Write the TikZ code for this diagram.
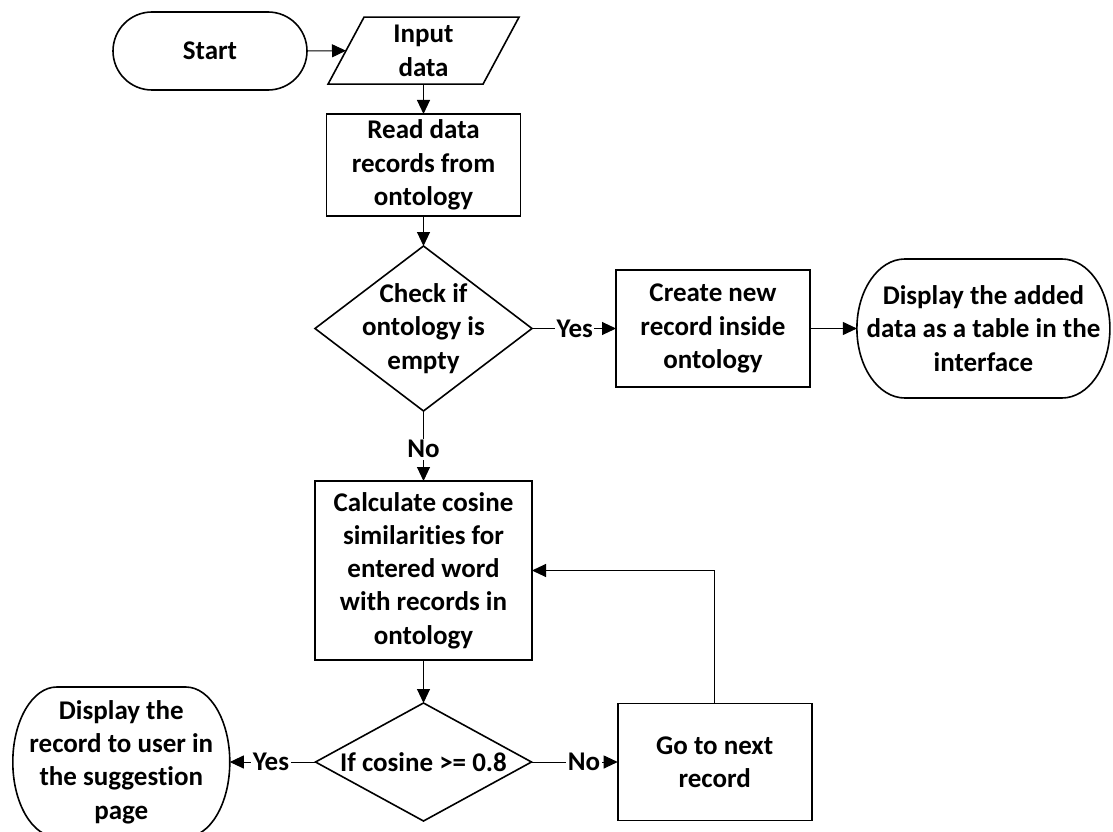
\documentclass[tikz,border=0pt]{standalone}
\usepackage{fontspec}
\setmainfont{Carlito}[Ligatures=NoCommon]
\usetikzlibrary{arrows.meta,shapes.geometric}

% Terminal outline with elliptical ends: node name, x radius, y radius
\newcommand\ovalends[3]{%
  \draw[outline] ([xshift=#2]#1.north west) -- ([xshift=-#2]#1.north east)
    arc[start angle=90, end angle=-90, x radius=#2, y radius=#3]
    -- ([xshift=#2]#1.south west)
    arc[start angle=270, end angle=90, x radius=#2, y radius=#3] -- cycle;}

\begin{document}
\begin{tikzpicture}[x=1pt, y=-1pt,
  every node/.style={inner sep=0pt, outer sep=0pt},
  txt/.style={font=\bfseries\fontsize{27}{33.3}\selectfont, align=center},
  outline/.style={line width=1.6pt, line join=miter},
  box/.style={txt, draw, outline},
  terminal/.style={txt, draw, outline, rounded corners=39pt},
  decision/.style={diamond, draw, outline},
  conn/.style={line width=1pt, -{Triangle[length=14pt, width=13pt]}},
  lbl/.style={txt, fill=white, inner sep=1.5pt}
]
\useasboundingbox (0,0) rectangle (1113,832);
\clip (0,0) rectangle (1113,832);

% main column
\node[terminal, minimum width=194pt, minimum height=78pt] (start) at (210,51) {Start};

\node[txt, minimum width=155pt, minimum height=67pt] (input) at (423.5,50.7) {Input\\data};
\draw[outline] ([xshift=-59.5pt]input.north) -- ([xshift=95.5pt]input.north)
  -- ([xshift=59.5pt]input.south) -- ([xshift=-95.5pt]input.south) -- cycle;
\path ([xshift=-77.5pt]input.center) coordinate (input-left);

\node[box, minimum width=194pt, minimum height=102pt] (read) at (423.5,165)
  {Read data\\records from\\ontology};

\node[decision, minimum width=217pt, minimum height=165pt] (check) at (423.5,328.5) {};
\node[txt] (check-text) at (check) {Check if\\ontology is\\empty};

\node[box, minimum width=194pt, minimum height=117pt] (create) at (713,328.5)
  {Create new\\record inside\\ontology};

\node[txt, minimum width=253pt, minimum height=139pt] (showtable) at (983.4,328.5)
  {Display the added\\data as a table in the\\interface};
\ovalends{showtable}{48pt}{69.5pt}

\node[box, minimum width=217pt, minimum height=179pt] (calc) at (423.5,570.5)
  {Calculate cosine\\similarities for\\entered word\\with records in\\ontology};

\node[decision, minimum width=216pt, minimum height=118pt] (cosine) at (423.5,762) {};
\node[txt] (cosine-text) at (cosine) {If cosine >= 0.8};

\node[box, minimum width=194pt, minimum height=117pt] (next) at (714.7,762)
  {Go to next\\record};

\node[txt, minimum width=217pt, minimum height=150pt] (showrec) at (121.3,762)
  {Display the\\record to user in\\the suggestion\\page};
\ovalends{showrec}{44pt}{75pt}

% connectors
\draw[conn] (start.east) -- (input-left);
\draw[conn] (input.south) -- (read.north);
\draw[conn] (read.south) -- (check.north);
\draw[conn] (check.east) -- node[lbl, pos=0.51] (yes-empty) {Yes} (create.west);
\draw[conn] (create.east) -- (showtable.west);
\draw[conn] (check.south) -- node[lbl, pos=0.545] (no-empty) {No} (calc.north);
\draw[conn] (calc.south) -- (cosine.north);
\draw[conn] (cosine.west) -- node[lbl, pos=0.52] (yes-match) {Yes} (showrec.east);
\draw[conn] (cosine.east) -- node[lbl, pos=0.61] (no-match) {No} (next.west);
\draw[conn] (next.north) |- (calc.east);
\end{tikzpicture}
\end{document}
